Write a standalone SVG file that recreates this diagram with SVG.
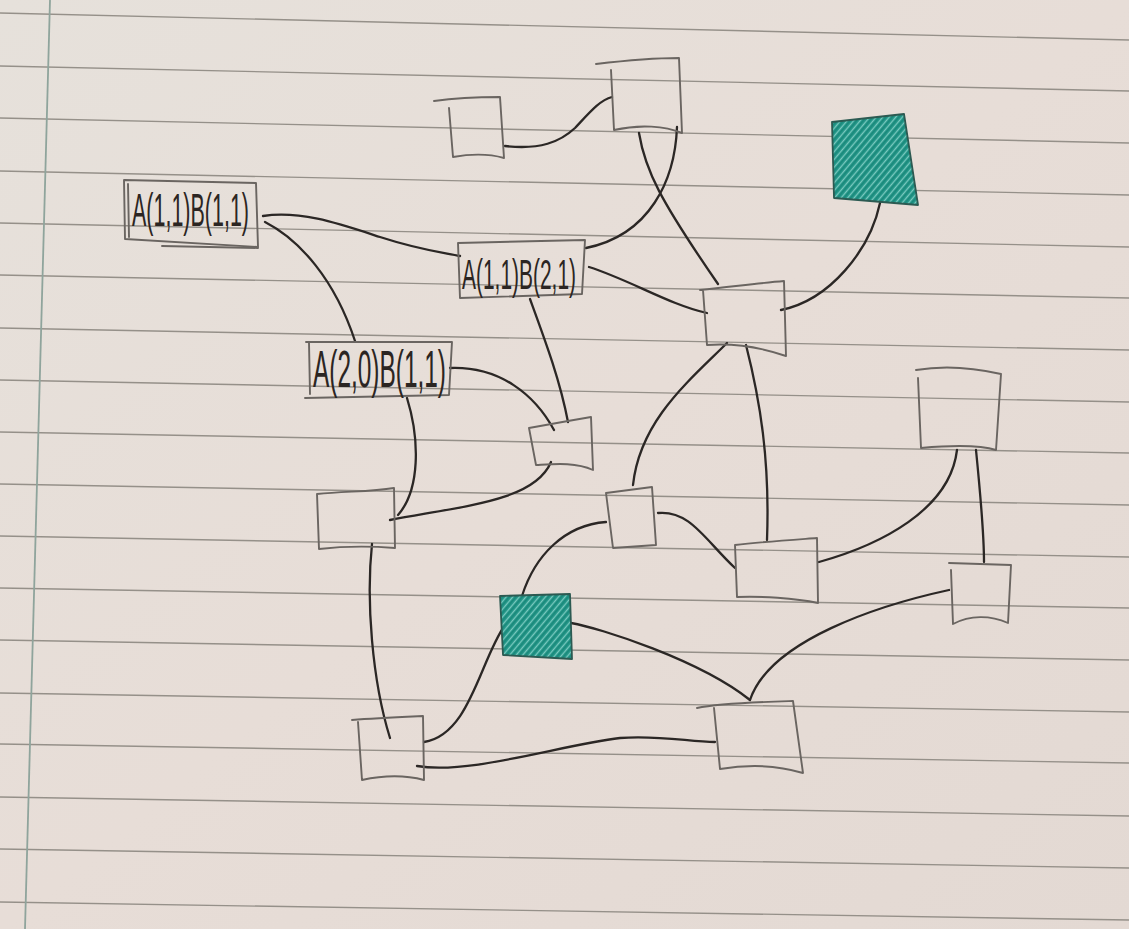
<svg xmlns="http://www.w3.org/2000/svg" width="1129" height="929" viewBox="0 0 1129 929">
<defs>
<linearGradient id="paper" x1="0" y1="0" x2="1" y2="1">
<stop offset="0" stop-color="#e6e1db"/>
<stop offset="0.5" stop-color="#e7ddd7"/>
<stop offset="1" stop-color="#e3d9d3"/>
</linearGradient>
<pattern id="hatch" width="5" height="5" patternUnits="userSpaceOnUse" patternTransform="rotate(40)">
<rect width="5" height="5" fill="#1f9486"/>
<line x1="1.5" y1="0" x2="1.5" y2="5" stroke="#7cc9bf" stroke-width="1.3"/>
<line x1="3.8" y1="0" x2="3.8" y2="5" stroke="#137c70" stroke-width="0.8"/>
</pattern>
<style>
.rule{stroke:#959089;stroke-width:1.4;fill:none}
.margin{stroke:#8fa49c;stroke-width:1.8;fill:none}
.box{fill:none;stroke:#6a6561;stroke-width:1.9;stroke-linecap:round;stroke-linejoin:round}
.teal{fill:url(#hatch);stroke:#2c5a52;stroke-width:1.8;stroke-linejoin:round}
.edge{fill:none;stroke:#2b2725;stroke-width:2.3;stroke-linecap:round}
.lbl{font-family:"Liberation Sans Narrow","Liberation Sans",sans-serif;fill:#2b2522}
</style>
</defs>
<rect width="1129" height="929" fill="url(#paper)"/>
<g id="paper-lines">
<line class="rule" x1="0" y1="13" x2="1129" y2="40"/>
<line class="rule" x1="0" y1="66" x2="1129" y2="91"/>
<line class="rule" x1="0" y1="118" x2="1129" y2="143"/>
<line class="rule" x1="0" y1="171" x2="1129" y2="195"/>
<line class="rule" x1="0" y1="223" x2="1129" y2="247"/>
<line class="rule" x1="0" y1="275" x2="1129" y2="298"/>
<line class="rule" x1="0" y1="328" x2="1129" y2="350"/>
<line class="rule" x1="0" y1="380" x2="1129" y2="402"/>
<line class="rule" x1="0" y1="432" x2="1129" y2="453"/>
<line class="rule" x1="0" y1="484" x2="1129" y2="505"/>
<line class="rule" x1="0" y1="536" x2="1129" y2="557"/>
<line class="rule" x1="0" y1="588" x2="1129" y2="608"/>
<line class="rule" x1="0" y1="640" x2="1129" y2="660"/>
<line class="rule" x1="0" y1="693" x2="1129" y2="712"/>
<line class="rule" x1="0" y1="744" x2="1129" y2="763"/>
<line class="rule" x1="0" y1="797" x2="1129" y2="816"/>
<line class="rule" x1="0" y1="849" x2="1129" y2="868"/>
<line class="rule" x1="0" y1="902" x2="1129" y2="920"/>
<line class="margin" x1="50" y1="0" x2="25" y2="929"/>
</g>
<g id="connectors">
<path class="edge" d="M505,146 C540,150 560,142 575,128 C590,112 600,100 612,97"/>
<path class="edge" d="M677,127 C675,180 650,235 586,248"/>
<path class="edge" d="M639,133 C645,170 660,200 718,284"/>
<path class="edge" d="M263,216 C300,210 340,224 380,237 C420,250 440,252 460,256"/>
<path class="edge" d="M265,222 C300,240 335,280 355,341"/>
<path class="edge" d="M589,267 C630,280 670,305 707,313"/>
<path class="edge" d="M880,203 C870,250 830,300 781,310"/>
<path class="edge" d="M530,299 C545,340 560,380 568,422"/>
<path class="edge" d="M450,368 C500,366 535,395 554,430"/>
<path class="edge" d="M407,398 C420,440 420,490 398,515"/>
<path class="edge" d="M551,462 C535,500 470,505 390,520"/>
<path class="edge" d="M372,544 C366,600 372,680 390,738"/>
<path class="edge" d="M727,343 C690,380 640,420 633,485"/>
<path class="edge" d="M746,345 C760,400 770,460 767,540"/>
<path class="edge" d="M658,513 C690,510 705,540 735,568"/>
<path class="edge" d="M606,522 C565,525 535,555 522,596"/>
<path class="edge" d="M957,450 C950,510 880,545 819,562"/>
<path class="edge" d="M976,450 C980,490 984,530 984,562"/>
<path class="edge" d="M949,590 C880,605 770,640 750,700"/>
<path class="edge" d="M571,623 C600,628 700,660 750,700"/>
<path class="edge" d="M505,625 C480,660 470,735 424,742"/>
<path class="edge" d="M417,766 C470,775 560,745 620,738 C660,735 690,742 715,742"/>
</g>
<g id="node-a11b11">
<path class="box" d="M124,180 L256,183 L258,247 L125,239 Z"/>
<path class="box" d="M162,246 L258,248 M128,184 L129,237"/>
<text class="lbl" x="132" y="226" font-size="46" textLength="117" lengthAdjust="spacingAndGlyphs">A(1,1)B(1,1)</text>
</g>
<g id="node-a11b21">
<path class="box" d="M458,243 L585,240 L582,294 L460,298 Z"/>
<text class="lbl" x="462" y="289" font-size="42" textLength="114" lengthAdjust="spacingAndGlyphs">A(1,1)B(2,1)</text>
</g>
<g id="node-a20b11">
<path class="box" d="M306,342 L452,342 L449,395 L305,398 M309,343 L310,394"/>
<text class="lbl" x="313" y="387" font-size="52" textLength="133" lengthAdjust="spacingAndGlyphs">A(2,0)B(1,1)</text>
</g>
<g id="node-top-small">
<path class="box" d="M434,101 C455,98 485,97 500,97 L504,158 M449,108 L453,157 C470,154 490,154 504,158"/>
</g>
<g id="node-top">
<path class="box" d="M596,64 C630,60 660,58 679,58 L682,133 M611,70 L614,130 C640,124 665,126 682,133"/>
</g>
<g id="node-teal-top">
<path class="teal" d="M832,122 L904,114 L918,205 L834,198 Z"/>
</g>
<g id="node-center-right">
<path class="box" d="M700,290 C730,287 760,283 784,281 L786,356 M703,290 L707,345 C735,343 760,347 786,356"/>
</g>
<g id="node-small-mid">
<path class="box" d="M529,428 L568,421 L591,417 L593,470 C575,462 555,464 536,465 Z"/>
</g>
<g id="node-left-mid">
<path class="box" d="M317,494 C345,491 370,492 394,488 L395,548 C370,546 345,546 319,549 Z"/>
</g>
<g id="node-center">
<path class="box" d="M606,493 L652,487 L656,545 L613,548 Z"/>
</g>
<g id="node-right-top">
<path class="box" d="M916,370 C945,365 975,368 1001,374 L996,450 C980,445 955,445 921,448 L918,378"/>
</g>
<g id="node-mid-right">
<path class="box" d="M735,545 C760,542 790,540 817,538 L818,603 C795,598 760,596 737,597 Z"/>
</g>
<g id="node-far-right">
<path class="box" d="M949,563 L1011,565 L1008,623 C990,615 970,615 953,624 L951,570"/>
</g>
<g id="node-teal-mid">
<path class="teal" d="M500,596 L570,594 L572,659 L503,655 Z"/>
</g>
<g id="node-bottom-left">
<path class="box" d="M352,720 C375,718 400,717 423,716 L424,780 C405,775 385,775 362,780 L358,722"/>
</g>
<g id="node-bottom-right">
<path class="box" d="M697,708 C720,703 760,702 793,701 L803,773 C780,766 750,764 720,769 L714,708"/>
</g>
</svg>
